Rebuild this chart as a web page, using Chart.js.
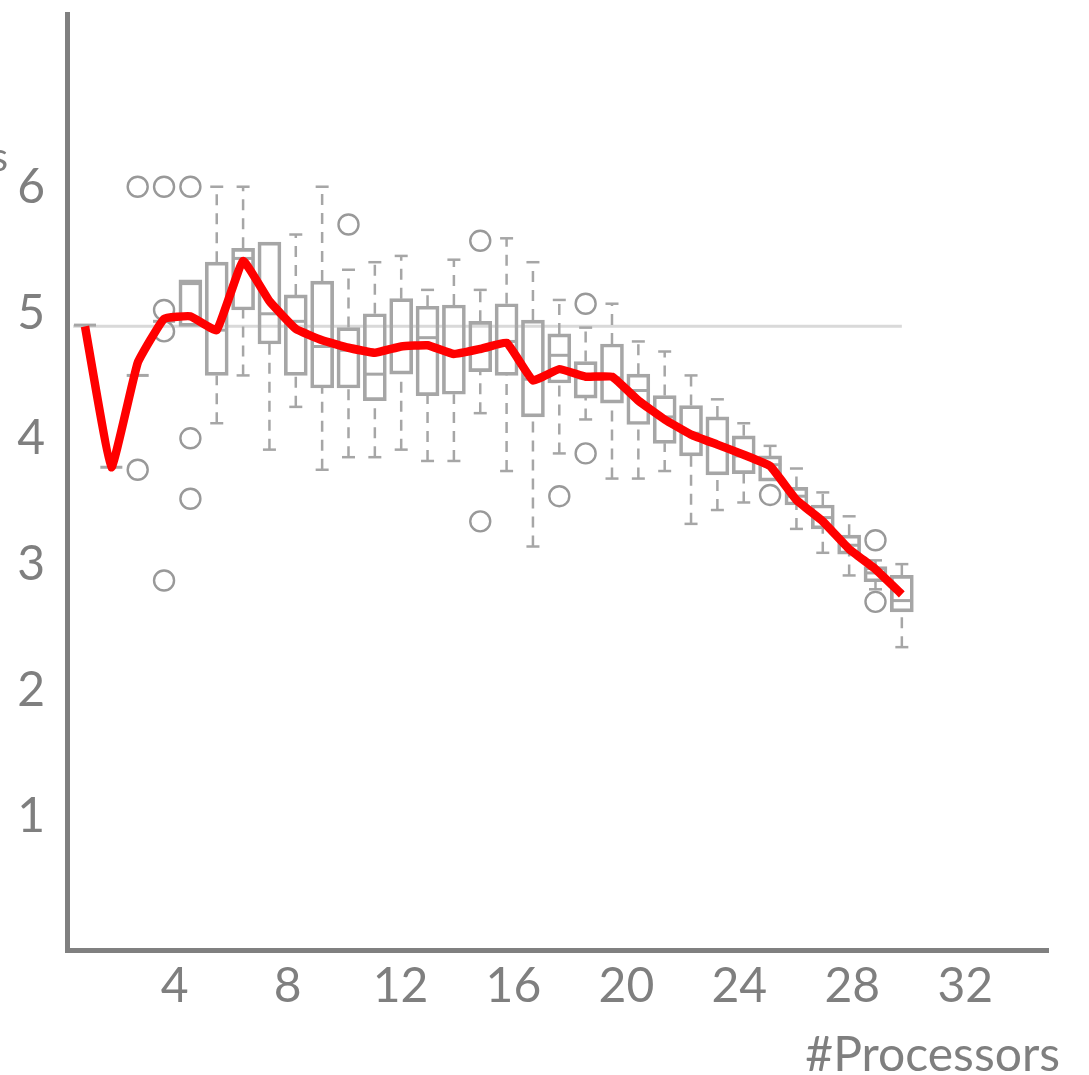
<!DOCTYPE html>
<html lang="en">
<head>
<meta charset="UTF-8">
<title>#Processors</title>
<script src="https://cdn.jsdelivr.net/npm/chart.js"></script>
<style>
  html, body { margin: 0; padding: 0; background: #fff; overflow: hidden; }
</style>
</head>
<body>
<canvas id="myChart" width="1089" height="1075"></canvas>
<script>
// processor counts of the box plots (hidden "xb" axis)
const processors = [1, 2, 3, 4, 5, 6, 7, 8, 9, 10, 11, 12, 13, 14, 15, 16,
                    17, 18, 19, 20, 21, 22, 23, 24, 25, 26, 27, 28, 29, 30, 31, 32];

// red line
const redLine = [4.91, 3.79, 4.62, 4.97, 4.99, 4.88, 5.43, 5.11, 4.89, 4.80, 4.74, 4.70, 4.75, 4.76, 4.69, 4.73,
                 4.78, 4.48, 4.57, 4.51, 4.51, 4.32, 4.17, 4.05, 3.97, 3.89, 3.80, 3.53, 3.36, 3.14, 2.98, 2.78];

// box plot statistics
const whiskerLow  = [4.92, 3.79, 4.52, 4.95, 4.91, 4.14, 4.52, 3.93, 4.27, 3.77, 3.87, 3.87, 3.93, 3.84, 3.84, 4.22,
                     3.76, 3.16, 3.90, 4.17, 3.70, 3.70, 3.76, 3.34, 3.45, 3.51, 3.68, 3.30, 3.11, 2.93, 2.82, 2.36];
const boxQ1       = [4.92, 3.79, 4.52, 4.95, 4.91, 4.52, 5.04, 4.77, 4.52, 4.42, 4.42, 4.32, 4.53, 4.36, 4.37, 4.55,
                     4.52, 4.19, 4.46, 4.34, 4.30, 4.13, 3.98, 3.88, 3.73, 3.74, 3.68, 3.49, 3.30, 3.10, 2.88, 2.64];
const boxMedian   = [4.92, 3.79, 4.52, 4.95, 5.25, 4.88, 5.45, 5.01, 4.95, 4.75, 4.72, 4.53, 4.76, 4.82, 4.69, 4.72,
                     4.79, 4.49, 4.68, 4.50, 4.50, 4.40, 4.19, 4.06, 3.97, 3.88, 3.81, 3.56, 3.39, 3.17, 2.95, 2.73];
const boxQ3       = [4.92, 3.79, 4.52, 4.95, 5.28, 5.42, 5.53, 5.58, 5.16, 5.27, 4.90, 5.01, 5.13, 5.07, 5.08, 4.95,
                     5.09, 4.96, 4.85, 4.63, 4.77, 4.53, 4.36, 4.28, 4.19, 4.04, 3.88, 3.63, 3.49, 3.25, 3.00, 2.93];
const whiskerHigh = [4.92, 3.79, 4.52, 4.95, 5.28, 6.02, 6.02, 5.58, 5.64, 6.02, 5.36, 5.42, 5.47, 5.20, 5.44, 5.20,
                     5.61, 5.42, 5.12, 4.90, 5.09, 4.79, 4.71, 4.52, 4.33, 4.14, 3.96, 3.78, 3.59, 3.40, 3.05, 3.02];

// outliers (processor, value)
const outlierProc  = [3, 3, 4, 4, 4, 4, 5, 5, 5, 11, 16, 16, 19, 20, 20, 27, 31, 31];
const outlierValue = [6.02, 3.77, 6.02, 5.04, 4.87, 2.89, 6.02, 4.02, 3.54, 5.72, 5.59, 3.36, 3.56, 5.09, 3.90, 3.57, 3.21, 2.72];

// horizontal reference line
const refValue = 4.91;
const refFrom = 0.55;
const refTo = 32;

// tick labels
const xTicks = [4, 8, 12, 16, 20, 24, 28, 32];
const yTicks = [1, 2, 3, 4, 5, 6];

const boxGray = '#a6a6a6';
const textGray = '#7f7f7f';
const axisGray = '#808080';

Chart.defaults.font.family = 'Lato';

// whisker segments, split by gaps
const whiskerPts = [];
const capPts = [];
processors.forEach((n, i) => {
    if (whiskerLow[i] < boxQ1[i]) {
        whiskerPts.push({x: n, y: whiskerLow[i]}, {x: n, y: boxQ1[i]}, {x: n, y: null});
        capPts.push({x: n, y: whiskerLow[i]});
    }
    if (whiskerHigh[i] > boxQ3[i]) {
        whiskerPts.push({x: n, y: boxQ3[i]}, {x: n, y: whiskerHigh[i]}, {x: n, y: null});
        capPts.push({x: n, y: whiskerHigh[i]});
    }
});

// bit of a cut-off label at the top left
const cutLabel = {
    id: 'cutLabel',
    afterDraw(chart) {
        const ctx = chart.ctx;
        ctx.save();
        ctx.font = '40px Lato';
        ctx.fillStyle = textGray;
        ctx.textAlign = 'right';
        ctx.textBaseline = 'alphabetic';
        ctx.fillText('s', 8, 171);
        ctx.restore();
    }
};

new Chart(document.getElementById('myChart'), {
    type: 'bar',
    data: {
        datasets: [
            {
                type: 'line',
                xAxisID: 'xb', yAxisID: 'y',
                data: processors.map((n, i) => ({x: n, y: redLine[i]})),
                borderColor: '#ff0000',
                borderWidth: 8.5,
                pointRadius: 0,
                tension: 0.1,
                borderJoinStyle: 'round',
                order: 0
            },
            {
                type: 'scatter',
                xAxisID: 'xb', yAxisID: 'y',
                data: outlierProc.map((n, i) => ({x: n, y: outlierValue[i]})),
                pointStyle: 'circle',
                pointRadius: 10,
                borderWidth: 2.4,
                borderColor: '#999999',
                backgroundColor: 'rgba(0,0,0,0)',
                order: 3
            },
            {
                type: 'scatter',
                xAxisID: 'xb', yAxisID: 'y',
                data: processors.map((n, i) => ({x: n, y: boxMedian[i]})),
                pointStyle: 'line',
                pointRadius: 11,
                borderWidth: 3,
                borderColor: boxGray,
                order: 4
            },
            {
                type: 'bar',
                xAxisID: 'xb', yAxisID: 'y',
                data: processors.map((n, i) => ({x: n, y: [boxQ1[i], boxQ3[i]]})),
                backgroundColor: 'rgba(0,0,0,0)',
                borderColor: boxGray,
                borderWidth: 3,
                borderSkipped: false,
                barThickness: 23,
                order: 5
            },
            {
                type: 'scatter',
                xAxisID: 'xb', yAxisID: 'y',
                data: capPts,
                pointStyle: 'line',
                pointRadius: 6.5,
                borderWidth: 2.5,
                borderColor: boxGray,
                order: 5
            },
            {
                type: 'line',
                xAxisID: 'xb', yAxisID: 'y',
                data: whiskerPts,
                borderColor: boxGray,
                borderWidth: 2.5,
                borderDash: [11, 8],
                pointRadius: 0,
                spanGaps: false,
                order: 6
            },
            {
                type: 'line',
                xAxisID: 'xb', yAxisID: 'y',
                data: [{x: refFrom, y: refValue}, {x: refTo, y: refValue}],
                borderColor: '#d9d9d9',
                borderWidth: 3,
                pointRadius: 0,
                order: 10
            }
        ]
    },
    options: {
        responsive: false,
        animation: false,
        events: [],
        layout: { padding: { top: 8, right: 29, left: 0, bottom: 0 } },
        plugins: {
            legend: { display: false },
            tooltip: { enabled: false },
            title: {
                display: true,
                text: '#Processors',
                position: 'bottom',
                align: 'end',
                color: textGray,
                font: { family: 'Lato', size: 48, weight: 'normal', lineHeight: 0.8 },
                padding: 0
            }
        },
        scales: {
            x: {
                type: 'linear',
                position: 'bottom',
                offset: false,
                min: 0.189,
                max: 34.93,
                grid: { display: false, drawTicks: false, offset: false },
                border: { display: true, color: axisGray, width: 5 },
                ticks: { color: textGray, font: { size: 48 }, padding: 8, maxRotation: 0 },
                afterBuildTicks: s => { s.ticks = xTicks.map(v => ({value: v})); },
                afterFit: s => { s.height = 86.6; s.paddingLeft = 0; s.paddingRight = 41; }
            },
            xb: {
                type: 'linear',
                display: false,
                offset: false,
                grid: { offset: false },
                min: 0.317,
                max: 37.547
            },
            y: {
                type: 'linear',
                min: -0.0474,
                max: 7.393,
                grid: { display: false, drawTicks: false },
                border: { display: true, color: axisGray, width: 5 },
                ticks: { color: textGray, font: { size: 48 }, padding: 22, labelOffset: -2 },
                afterBuildTicks: s => { s.ticks = yTicks.map(v => ({value: v})); },
                afterFit: s => { s.width = 67; s.paddingTop = 0; s.paddingBottom = 0; }
            }
        }
    },
    plugins: [cutLabel]
});
</script>
</body>
</html>
